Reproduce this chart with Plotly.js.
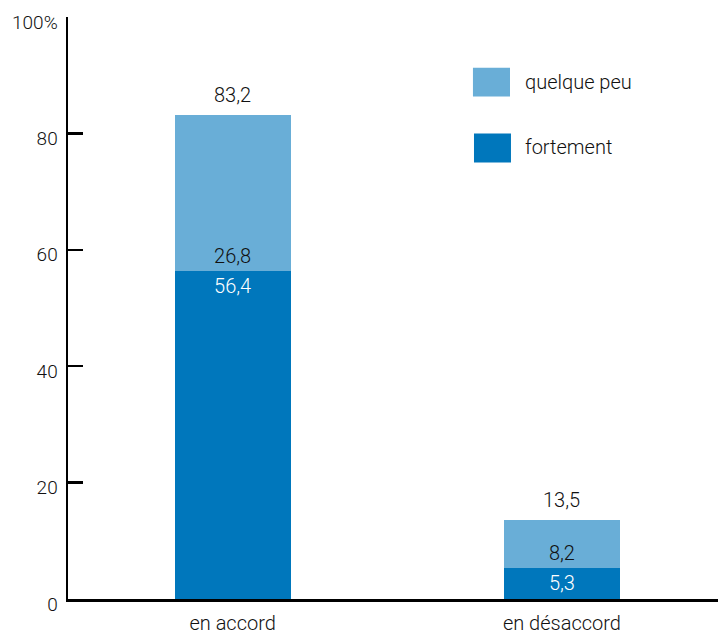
<!DOCTYPE html>
<html>
<head>
<meta charset="utf-8">
<script src="https://cdn.plot.ly/plotly-3.0.1.min.js"></script>
<style>
  html, body { margin: 0; padding: 0; background: #fff; }
  #chart { width: 718px; height: 633px; }
</style>
</head>
<body>
<div id="chart"></div>
<script>
// Répartition des réponses (en %)
const categories = ['en accord', 'en désaccord'];
const fortement = [56.4, 5.3];
const quelquePeu = [26.8, 8.2];
const totals = [83.2, 13.5];

const yTickVals = [0, 20, 40, 60, 80, 100];
const yTickText = ['0', '20', '40', '60', '80', '100%'];

const seriesNames = ['quelque peu', 'fortement'];
const colLight = '#69aed7';
const colDark = '#0077bc';
const FONT = 'Roboto, "Open Sans", sans-serif';
const txtDark = '#111111';
const W = 300;

const barWidth = 0.353;

const traces = [
  {
    type: 'bar',
    name: seriesNames[1],
    x: categories,
    y: fortement,
    width: barWidth,
    marker: { color: colDark },
    texttemplate: '%{y:.1f}',
    textposition: 'inside',
    insidetextanchor: 'end',
    textangle: 0,
    textfont: { family: FONT, size: 20, color: '#ffffff', weight: W },
    hoverinfo: 'none'
  },
  {
    type: 'bar',
    name: seriesNames[0],
    x: categories,
    y: quelquePeu,
    width: barWidth,
    marker: { color: colLight },
    texttemplate: '%{y:.1f}',
    textposition: 'inside',
    insidetextanchor: 'start',
    textangle: 0,
    textfont: { family: FONT, size: 20, color: txtDark, weight: W },
    hoverinfo: 'none'
  }
];

// Totaux au-dessus des barres
const annotations = categories.map((c, i) => ({
  x: c,
  y: totals[i],
  xref: 'x',
  yref: 'y',
  text: totals[i].toFixed(1).replace('.', ','),
  showarrow: false,
  yanchor: 'bottom',
  yshift: 6,
  font: { family: FONT, size: 20, color: txtDark, weight: W }
}));

// Légende dessinée à la main (carrés + libellés)
const legendItems = [
  { name: seriesNames[0], color: colLight, x0: 0.623, x1: 0.680, y0: 0.8635, y1: 0.913, ty: 0.889 },
  { name: seriesNames[1], color: colDark, x0: 0.6246, x1: 0.6815, y0: 0.750, y1: 0.800, ty: 0.776 }
];
const shapes = legendItems.map(it => ({
  type: 'rect', xref: 'paper', yref: 'paper',
  x0: it.x0, x1: it.x1, y0: it.y0, y1: it.y1,
  fillcolor: it.color, line: { width: 0 }
}));
legendItems.forEach(it => annotations.push({
  xref: 'paper', yref: 'paper', x: 0.7, y: it.ty,
  xanchor: 'left', yanchor: 'middle', showarrow: false,
  text: it.name,
  font: { family: FONT, size: 20, color: txtDark, weight: W }
}));

const layout = {
  width: 718,
  height: 633,
  margin: { l: 68, r: 0, t: 16.5, b: 34, pad: 0 },
  paper_bgcolor: '#ffffff',
  plot_bgcolor: '#ffffff',
  separators: ', ',
  barmode: 'stack',
  showlegend: false,
  font: { family: FONT, size: 20, color: txtDark, weight: W },
  xaxis: {
    type: 'category',
    range: [-0.5, 1.474],
    showline: true,
    linecolor: '#000',
    linewidth: 2.5,
    showgrid: false,
    zeroline: false,
    ticks: '',
    automargin: false,
    ticklabelstandoff: 4,
    tickfont: { family: FONT, size: 20, color: txtDark, weight: W }
  },
  yaxis: {
    range: [0, 100],
    tickvals: yTickVals,
    ticktext: yTickText,
    showline: true,
    linecolor: '#000',
    linewidth: 2.5,
    ticks: 'inside',
    ticklen: 15,
    tickwidth: 2.5,
    tickcolor: '#000',
    showgrid: false,
    zeroline: false,
    automargin: false,
    ticklabelstandoff: 4,
    ticklabelshift: 5,
    tickfont: { family: FONT, size: 19, color: txtDark, weight: W }
  },
  shapes: shapes,
  annotations: annotations
};

Plotly.newPlot('chart', traces, layout, { displayModeBar: false, staticPlot: true });
</script>
</body>
</html>
